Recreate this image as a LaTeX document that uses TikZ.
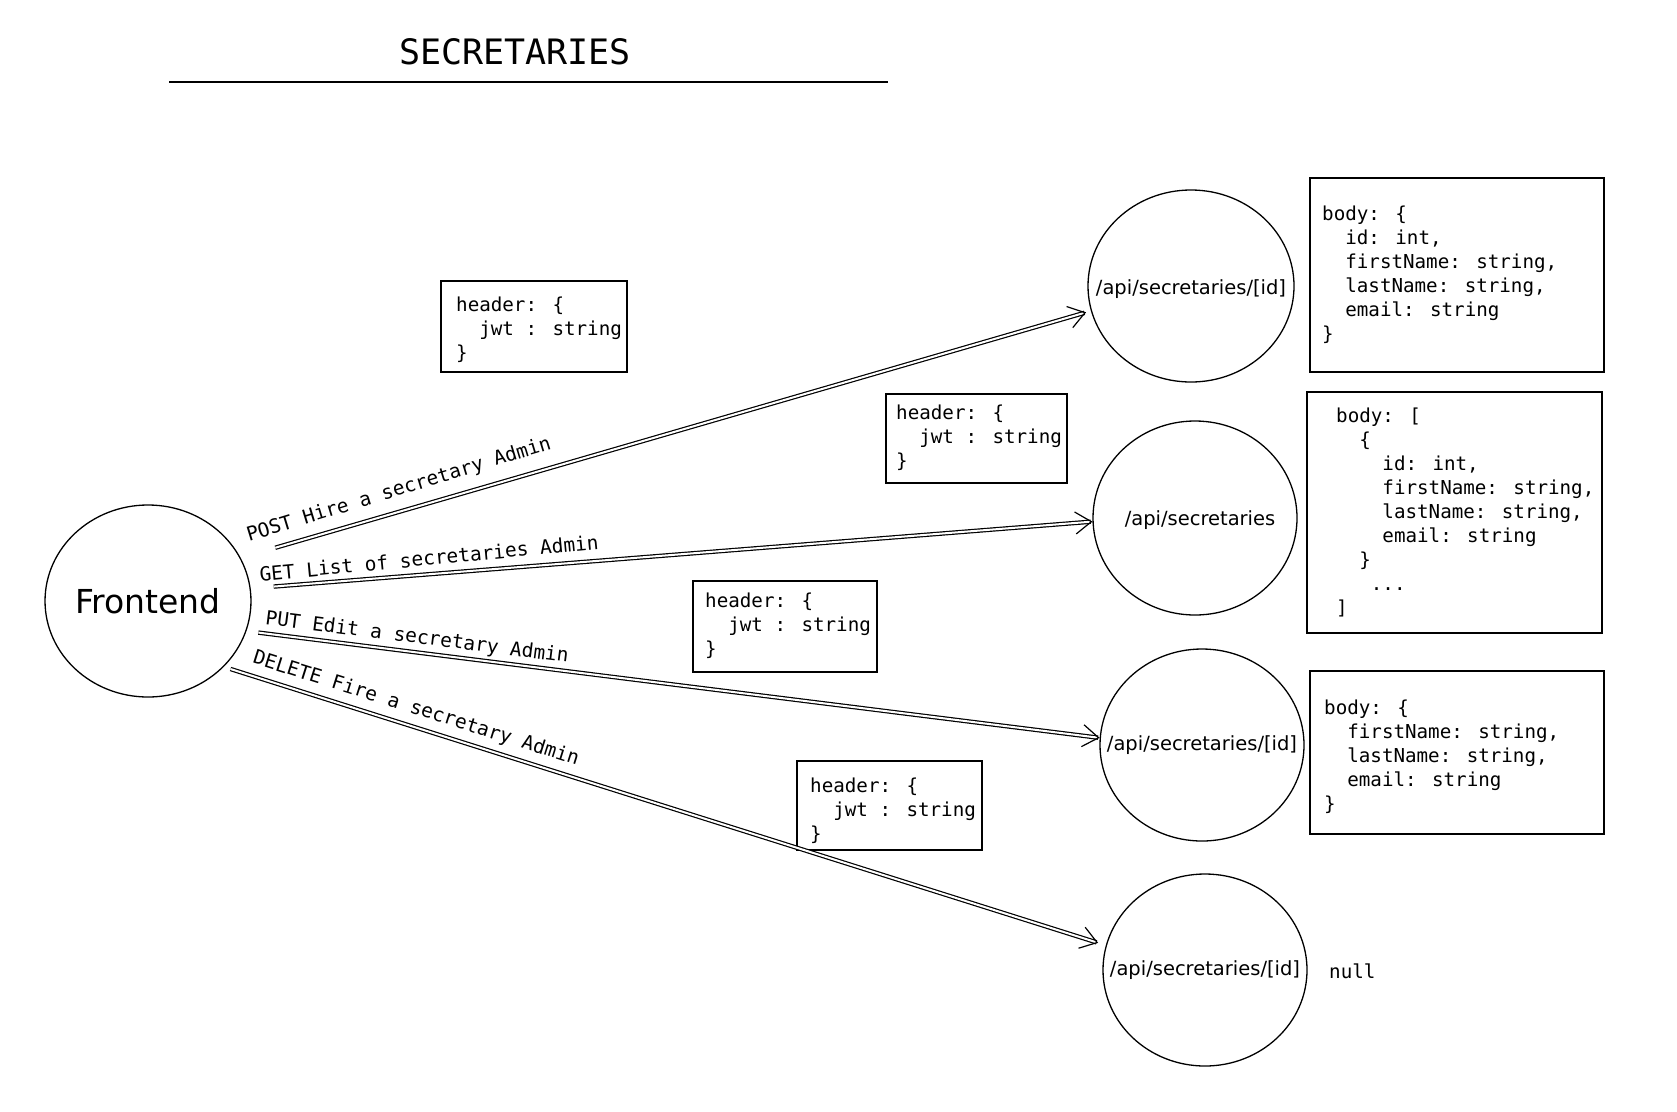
\documentclass[tikz,border=0pt]{standalone}
\usepackage{fontspec}
\setmainfont{DejaVu Sans}
\newfontfamily\codefont{DejaVu Sans Mono}
\usetikzlibrary{arrows.meta,shapes.geometric}
\begin{document}
\begin{tikzpicture}[x=1pt,y=-1pt,
  circ/.style={draw, ellipse, line width=1.3pt, inner sep=0pt, minimum width=204pt, minimum height=192pt},
  box/.style={draw, line width=2.4pt, rectangle, inner sep=0pt},
  code/.style={font=\codefont\fontsize{19.2}{24}\selectfont, align=left, anchor=west, inner sep=0pt},
  lbl/.style={font=\codefont\fontsize{19.5}{24}\selectfont, inner sep=0pt},
  api/.style={font=\fontsize{19.5}{22}\selectfont, inner sep=0pt},
  arr/.style={line width=1.2pt, double, double distance=2pt, -{Straight Barb[length=16pt,width=22pt]}},
]
\useasboundingbox[fill=white] (0,0) rectangle (1677,1111);

% title
\node[font=\codefont\fontsize{35}{40}\selectfont, inner sep=0pt] (title) at (515,52) {SECRETARIES};
\draw[line width=2.8pt] (169,82) -- (888,82);

% frontend
\node[circ, font=\fontsize{33}{36}\selectfont] (fe) at (148,601) {Frontend};

% endpoints
\node[circ, minimum width=206pt] (c1) at (1191,286) {};
\node[api] (t1) at (1191,289) {/api/secretaries/[id]};
\node[circ, minimum height=194pt] (c2) at (1195,518) {};
\node[api] (t2) at (1200,520) {/api/secretaries};
\node[circ] (c3) at (1202,745) {};
\node[api] (t3) at (1202,745) {/api/secretaries/[id]};
\node[circ] (c4) at (1205,970) {};
\node[api] (t4) at (1205,970) {/api/secretaries/[id]};

% body boxes
\node[box, minimum width=294pt, minimum height=194pt] (b1) at (1457,275) {};
\node[code] (b1t) at (1322,275) {body: \{\\
\phantom{xx}id: int,\\
\phantom{xx}firstName: string,\\
\phantom{xx}lastName: string,\\
\phantom{xx}email: string\\
\}};
\node[box, minimum width=295pt, minimum height=241pt] (b2) at (1454.5,512.5) {};
\node[code] (b2t) at (1336,512.5) {body: [\\
\phantom{xx}\{\\
\phantom{xxxx}id: int,\\
\phantom{xxxx}firstName: string,\\
\phantom{xxxx}lastName: string,\\
\phantom{xxxx}email: string\\
\phantom{xx}\}\\
\phantom{xxx}...\\
]};
\node[box, minimum width=294pt, minimum height=163pt] (b3) at (1457,752.5) {};
\node[code] (b3t) at (1324,757) {body: \{\\
\phantom{xx}firstName: string,\\
\phantom{xx}lastName: string,\\
\phantom{xx}email: string\\
\}};
\node[code] (null) at (1329,971) {null};

% header boxes
\node[box, minimum width=186pt, minimum height=91pt] (h1) at (534,326.5) {};
\node[code] (h1t) at (456,330) {header: \{\\ \phantom{xx}jwt : string\\ \}};
\node[box, minimum width=181pt, minimum height=89pt] (h2) at (976.5,438.5) {};
\node[code] (h2t) at (896,438) {header: \{\\ \phantom{xx}jwt : string\\ \}};
\node[box, minimum width=184pt, minimum height=91pt] (h3) at (785,626.5) {};
\node[code] (h3t) at (705,626) {header: \{\\ \phantom{xx}jwt : string\\ \}};
\node[box, minimum width=185pt, minimum height=89pt] (h4) at (889.5,805.5) {};
\node[code] (h4t) at (810,811) {header: \{\\ \phantom{xx}jwt : string\\ \}};

% connectors
\draw[arr, shorten <=36pt, shorten >=5pt] (fe.25) -- (c1.194);
\draw[arr, shorten <=23pt] (fe.7.4) -- (c2.182);
\draw[arr, shorten <=12pt] (fe.-17.5) -- (c3.176);
\draw[arr, shorten <=7pt, shorten >=8pt] (fe.-41) -- (c4.166);

% labels
\node[lbl, rotate=17] (l1) at (399,490) {POST Hire a secretary Admin};
\node[lbl, rotate=5.5] (l2) at (429,558) {GET List of secretaries Admin};
\node[lbl, rotate=-7.2] (l3) at (417,638) {PUT Edit a secretary Admin};
\node[lbl, rotate=-17.5] (l4) at (416,709) {DELETE Fire a secretary Admin};
\end{tikzpicture}
\end{document}
